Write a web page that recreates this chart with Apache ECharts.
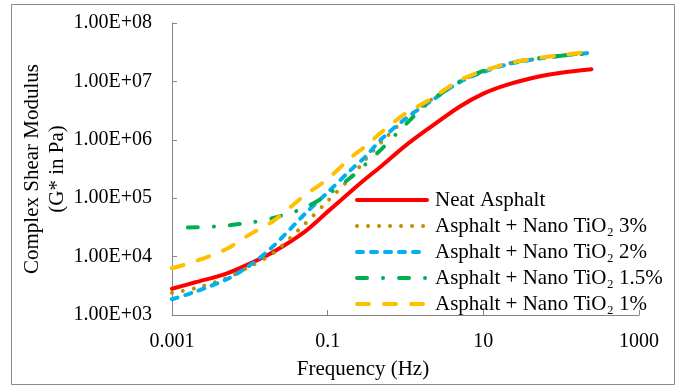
<!DOCTYPE html>
<html><head><meta charset="utf-8">
<script src="https://cdn.jsdelivr.net/npm/echarts@6/dist/echarts.min.js"></script>
<style>html,body{margin:0;padding:0;background:#fff}#c{width:686px;height:388px}</style>
</head><body><div id="c"></div>
<script>
// Frequency (Hz)
const freqs = [0.001, 0.002, 0.005, 0.01, 0.02, 0.05, 0.1, 0.2, 0.3, 0.5, 1, 2, 5, 10, 20, 50, 100, 245];
const greenFreqs = [0.0016, 0.004, 0.01, 0.02, 0.03, 0.05, 0.1, 0.2, 0.3, 0.5, 1, 2, 5, 10, 20, 50, 100, 245];
// Complex shear modulus G* (Pa)
const neatAsphalt = [2820, 3630, 5130, 7590, 12000, 26300, 58900, 132000, 209000, 363000, 794000, 1580000, 3720000, 6170000, 8710000, 12000000, 14100000, 16200000];
const tio2_3 = [2400, 2880, 4270, 6760, 11500, 35500, 89100, 229000, 447000, 933000, 2290000, 4570000, 10000000, 14800000, 20000000, 24500000, 27500000, 30900000];
const tio2_2 = [1860, 2510, 4070, 7080, 15100, 52500, 126000, 309000, 501000, 1050000, 2290000, 4370000, 9770000, 14500000, 19500000, 24500000, 27500000, 30900000];
const tio2_15 = [31600, 33100, 38000, 45700, 53700, 67600, 115000, 229000, 372000, 708000, 1820000, 4370000, 10000000, 15100000, 20000000, 25100000, 27500000, 30200000];
const tio2_1 = [6310, 8320, 13500, 24000, 40700, 110000, 214000, 501000, 759000, 1380000, 2820000, 4790000, 10500000, 15100000, 20000000, 25100000, 28200000, 32400000];
const seriesNames = ['Neat Asphalt', 'Asphalt + Nano TiO\u2082 3%', 'Asphalt + Nano TiO\u2082 2%', 'Asphalt + Nano TiO\u2082 1.5%', 'Asphalt + Nano TiO\u2082 1%'];

const zip = (xs, ys) => xs.map((x, i) => [x, ys[i]]);
const FONT = '"Liberation Serif", "Times New Roman", "DejaVu Serif", serif';

const mk = (name, xs, ys, color, type, cap) => ({
  name, type: 'line', data: zip(xs, ys), showSymbol: false, symbol: 'none', smooth: 0.3,
  lineStyle: { color, width: 4, type, cap: cap || 'round', join: 'round' },
  itemStyle: { color }
});

const chart = echarts.init(document.getElementById('c'), null, { renderer: 'canvas' });
chart.setOption({
  animation: false,
  backgroundColor: '#fff',
  textStyle: { fontFamily: FONT, color: '#000' },
  graphic: [{ type: 'rect', shape: { x: 11.5, y: 4.5, width: 663, height: 380 }, style: { fill: 'none', stroke: '#8a8a8a', lineWidth: 1 }, silent: true }],
  grid: { left: 172, right: 47, top: 23, bottom: 73 },
  legend: {
    orient: 'vertical', left: 355, top: 189.5, padding: 0, itemWidth: 70, itemHeight: 14, itemGap: 5,
    data: seriesNames,
    itemStyle: { opacity: 0, borderWidth: 0 },
    lineStyle: { width: 4, cap: 'round' },
    textStyle: { fontFamily: FONT, fontSize: 21, color: '#000', lineHeight: 21, padding: [0, 0, 0, 3] }
  },
  xAxis: {
    type: 'log', logBase: 10, min: 0.001, max: 1000, interval: 2,
    name: 'Frequency (Hz)', nameLocation: 'middle', nameGap: 44, nameMoveOverlap: false,
    nameTextStyle: { fontFamily: FONT, fontSize: 21, color: '#000', padding: [0, 85, 0, 0] },
    axisLine: { lineStyle: { color: '#868686', width: 1 } },
    axisTick: { inside: true, length: 5, lineStyle: { color: '#868686' } },
    axisLabel: { fontFamily: FONT, fontSize: 20, color: '#000', margin: 17,
      formatter: v => { const e = Math.round(Math.log10(v)); return (e % 2 === 0) ? '' : String(v); } },
    splitLine: { show: false }, minorTick: { show: false }
  },
  yAxis: {
    type: 'log', logBase: 10, min: 1000, max: 100000000,
    name: 'Complex Shear Modulus\n(G* in Pa)', nameLocation: 'middle', nameRotate: 90, nameGap: 102, nameMoveOverlap: false,
    nameTextStyle: { fontFamily: FONT, fontSize: 21, color: '#000', lineHeight: 25 },
    axisLine: { show: true, lineStyle: { color: '#868686', width: 1 } },
    axisTick: { show: true, inside: true, length: 5, lineStyle: { color: '#868686' } },
    axisLabel: { fontFamily: FONT, fontSize: 20, color: '#000', margin: 20,
      formatter: v => { const e = Math.round(Math.log10(v)); return '1.00E+' + (e < 10 ? '0' : '') + e; } },
    splitLine: { show: false }
  },
  series: [
    mk(seriesNames[0], freqs, neatAsphalt, '#FF0000', 'solid', 'round'),
    mk(seriesNames[1], freqs, tio2_3, '#BF8F00', [0.01, 11], 'round'),
    mk(seriesNames[2], freqs, tio2_2, '#00B0F0', [6, 8], 'round'),
    mk(seriesNames[3], greenFreqs, tio2_15, '#00B050', [10, 16, 0.01, 16], 'round'),
    mk(seriesNames[4], freqs, tio2_1, '#FFC000', [12, 15], 'round')
  ]
});
</script></body></html>
